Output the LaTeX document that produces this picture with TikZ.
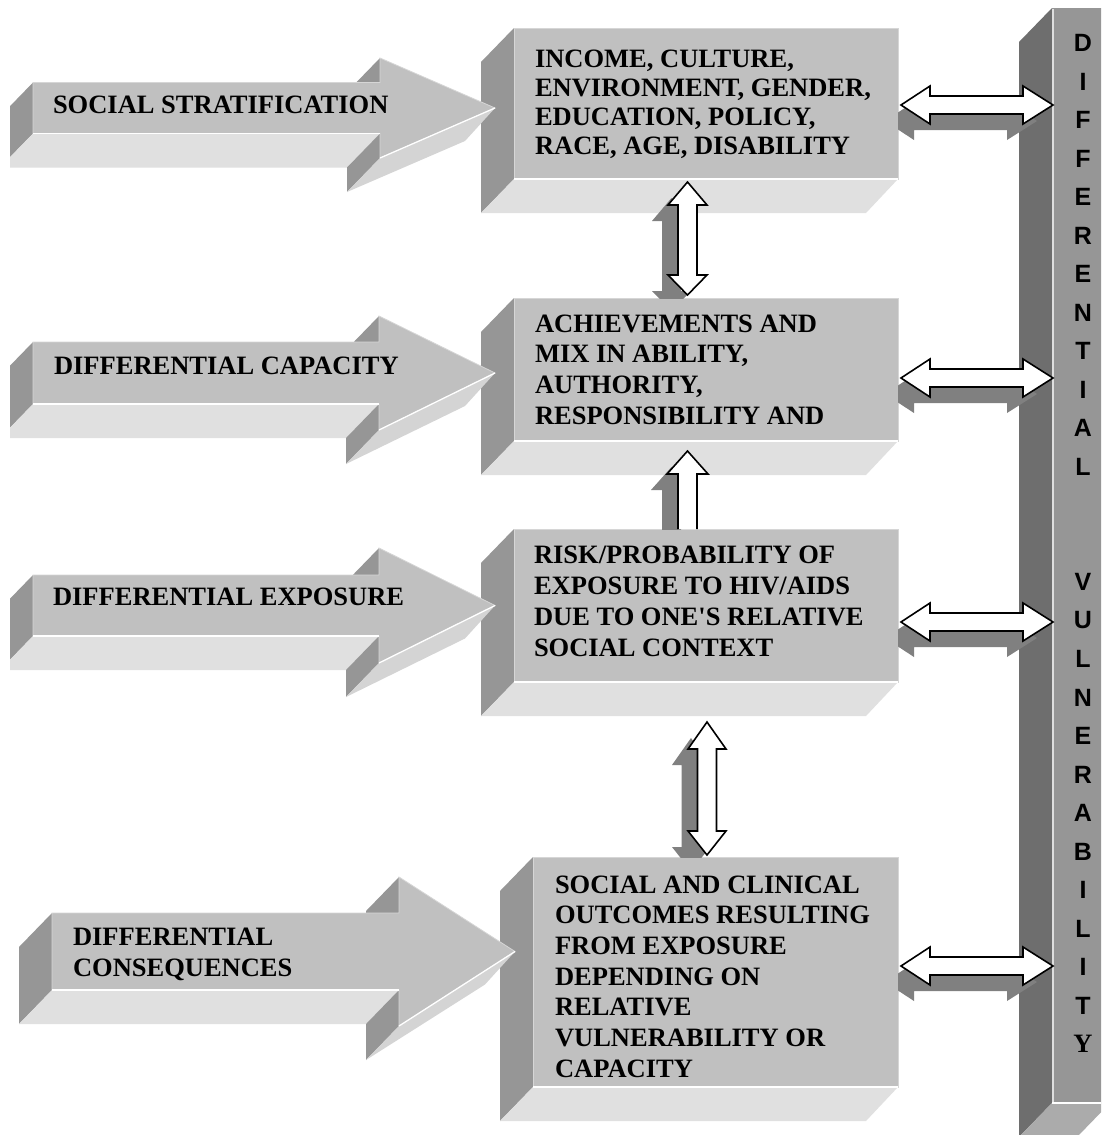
\documentclass[tikz,border=0pt]{standalone}
\usepackage{fontspec}
\setmainfont{Liberation Serif}
\newfontfamily\plainserif{Liberation Serif}
\newfontfamily\barfont{Liberation Sans}
\definecolor{frontgray}{HTML}{C0C0C0}
\definecolor{sidegray}{HTML}{969696}
\definecolor{botgray}{HTML}{E0E0E0}
\definecolor{slantgray}{HTML}{D4D4D4}
\definecolor{edgegray}{HTML}{D6D6D6}
\definecolor{barfront}{HTML}{969696}
\definecolor{barside}{HTML}{6E6E6E}
\definecolor{barbottom}{HTML}{ABABAB}
\definecolor{shadowgray}{HTML}{808080}
\tikzset{
  frontface/.style={fill=frontgray, draw=edgegray, line width=0.8pt},
  sideface/.style={fill=sidegray},
  bottomface/.style={fill=botgray},
  slantface/.style={fill=slantgray},
  hiline/.style={draw=white, line width=1.3pt},
  whitearrow/.style={fill=white, draw=black, line width=1.6pt, line join=miter},
  shadowarrow/.style={fill=shadowgray},
  lbl/.style={anchor=base west, inner sep=0pt, outer sep=0pt},
  barletter/.style={inner sep=0pt, font=\barfont\bfseries\fontsize{25}{25}\selectfont},
}
% 3D box: front face (#1,#2)-(#3,#4), depth toward lower left
\newcommand\ThreeDBox[4]{%
  \fill[sideface] (#1,#2) -- (#1,#4) -- ({#1-33},{#4+34}) -- ({#1-33},{#2+34}) -- cycle;
  \fill[bottomface] (#1,#4) -- (#3,#4) -- ({#3-32},{#4+34}) -- ({#1-33},{#4+34}) -- cycle;
  \path[frontface] (#1,#2) rectangle (#3,#4);
  \draw[hiline] (#1,#4) -- (#3,#4);
}
% 3D block arrow: #1 x0, #2 xh (head base), #3 xt (tip), #4 yc, #5 shaft half, #6 head half
\newcommand\BigArrow[6]{%
  \fill[sideface] (#1,{#4-#5}) -- (#1,{#4+#5}) -- ({#1-33},{#4+#5+34}) -- ({#1-33},{#4-#5+34}) -- cycle;
  \fill[bottomface] (#1,{#4+#5}) -- (#2,{#4+#5}) -- ({#2-33},{#4+#5+34}) -- ({#1-33},{#4+#5+34}) -- cycle;
  \fill[sideface] (#2,{#4-#6}) -- (#2,{#4-#5}) -- ({#2-33},{#4-#5+34}) -- ({#2-33},{#4-#6+34}) -- cycle;
  \fill[sideface] (#2,{#4+#5}) -- (#2,{#4+#6}) -- ({#2-33},{#4+#6+34}) -- ({#2-33},{#4+#5+34}) -- cycle;
  \fill[slantface] (#2,{#4+#6}) -- (#3,#4) -- ({#3-30},{#4+33}) -- ({#2-33},{#4+#6+34}) -- cycle;
  \path[frontface] (#1,{#4-#5}) -- (#2,{#4-#5}) -- (#2,{#4-#6}) -- (#3,#4) -- (#2,{#4+#6}) -- (#2,{#4+#5}) -- (#1,{#4+#5}) -- cycle;
  \draw[hiline] (#1,{#4+#5}) -- (#2,{#4+#5});
  \draw[hiline] (#2,{#4+#6}) -- (#3,#4);
}
% horizontal double arrow centred at y = #1
\newcommand\HDouble[2]{%
  \path[#2] (901,#1) -- (930,{#1-19}) -- (930,{#1-9}) -- (1023,{#1-9}) -- (1023,{#1-19}) -- (1053,#1)
    -- (1023,{#1+19}) -- (1023,{#1+9}) -- (930,{#1+9}) -- (930,{#1+19}) -- cycle;
}
\newcommand\VDoubleA[1]{%
  \path[#1] (687.5,182) -- (707,205) -- (697,205) -- (697,275) -- (707,275) -- (687.5,295)
    -- (668,275) -- (678,275) -- (678,205) -- (668,205) -- cycle;
}
\newcommand\VSingleB[1]{%
  \path[#1] (687.5,451) -- (708,474) -- (697,474) -- (697,529) -- (678,529) -- (678,474) -- (667,474) -- cycle;
}
\newcommand\VDoubleC[1]{%
  \path[#1] (707,722) -- (726,749) -- (716.5,749) -- (716.5,831) -- (726,831) -- (707,855)
    -- (688,831) -- (697.5,831) -- (697.5,749) -- (688,749) -- cycle;
}
\newcommand\BoxText[2]{{\fontsize{26.5}{#1}\selectfont\bfseries\begin{tabular}[t]{@{}l@{}}#2\end{tabular}}}
\newcommand\straightq{{\plainserif\bfseries '}}

\begin{document}
\begin{tikzpicture}[x=1pt,y=-1pt]
\useasboundingbox (0,0) rectangle (1101,1135);
\fill[white] (0,0) rectangle (1101,1135);

% vertical bar
\begin{scope}
\clip (0,0) rectangle (1101,1135);
\fill[barside] (1052,8) -- (1052,1103) -- (1019,1137) -- (1019,42) -- cycle;
\fill[barbottom] (1052,1103) -- (1110,1103) -- (1077,1137) -- (1019,1137) -- cycle;
\fill[barfront] (1052,8) rectangle (1105,1103);
\draw[draw=white!70!barfront, line width=2pt] (1053,9) -- (1053,1102);
\draw[hiline] (1052,1103) -- (1101,1103);
\end{scope}

% boxes
\ThreeDBox{514}{28}{898}{179}
\ThreeDBox{514}{298}{898}{441}
\ThreeDBox{514}{529}{898}{682}
\ThreeDBox{533}{857}{898}{1087}

% block arrows
\begin{scope}
\clip (10,0) rectangle (1101,1135);
\BigArrow{33}{380}{495}{108}{25.5}{50}
\BigArrow{33}{379}{495}{373}{31}{57}
\BigArrow{33}{379}{495}{605.5}{30.5}{57.5}
\BigArrow{52}{399}{515}{951.5}{38.5}{74.5}
\end{scope}

% shadows of the white arrows
\begin{scope}
\clip (898,0) rectangle (1101,1135);
\begin{scope}[shift={(-16,16)}]
\HDouble{105}{shadowarrow}
\HDouble{378}{shadowarrow}
\HDouble{622}{shadowarrow}
\HDouble{966}{shadowarrow}
\end{scope}
\end{scope}
\begin{scope}
\clip (0,0) rectangle (1101,298);
\begin{scope}[shift={(-16,16)}]\VDoubleA{shadowarrow}\end{scope}
\end{scope}
\begin{scope}
\clip (0,0) rectangle (1101,529);
\begin{scope}[shift={(-16,16)}]\VSingleB{shadowarrow}\end{scope}
\end{scope}
\begin{scope}
\clip (0,0) rectangle (1101,857);
\begin{scope}[shift={(-16,16)}]\VDoubleC{shadowarrow}\end{scope}
\end{scope}

% white connector arrows
\HDouble{105}{whitearrow}
\HDouble{378}{whitearrow}
\HDouble{622}{whitearrow}
\HDouble{966}{whitearrow}
\VDoubleA{whitearrow}
\VSingleB{fill=white}
\draw[black, line width=1.6pt, line join=miter] (697,529) -- (697,474) -- (708,474) -- (687.5,451) -- (667,474) -- (678,474) -- (678,529);
\VDoubleC{whitearrow}

% arrow labels
\node[lbl] (strat) at (53,113) {\BoxText{30}{SOCIAL STRATIFICATION}};
\node[lbl] (capac) at (54,374) {\BoxText{30}{DIFFERENTIAL CAPACITY}};
\node[lbl] (expos) at (53,605) {\BoxText{30}{DIFFERENTIAL EXPOSURE}};
\node[lbl] (conseq) at (73,945) {\BoxText{31}{DIFFERENTIAL\\CONSEQUENCES}};

% box texts
\node[lbl] (income) at (535,67) {\BoxText{29.3}{INCOME, CULTURE,\\ENVIRONMENT, GENDER,\\EDUCATION, POLICY,\\RACE, AGE, DISABILITY}};
\node[lbl] (achieve) at (535,332) {\BoxText{30.7}{ACHIEVEMENTS AND\\MIX IN ABILITY,\\AUTHORITY,\\RESPONSIBILITY AND}};
\node[lbl] (risk) at (534,563) {\BoxText{31}{RISK/PROBABILITY OF\\EXPOSURE TO HIV/AIDS\\DUE TO ONE\straightq S RELATIVE\\SOCIAL CONTEXT}};
\node[lbl] (outcome) at (555,893) {\BoxText{30.7}{SOCIAL AND CLINICAL\\OUTCOMES RESULTING\\FROM EXPOSURE\\DEPENDING ON\\RELATIVE\\VULNERABILITY OR\\CAPACITY}};

% bar letters
\foreach \ch [count=\i from 0] in {D,I,F,F,E,R,E,N,T,I,A,L}
  \node[barletter] (bara\i) at (1083,{43+38.5*\i}) {\ch};
\foreach \ch [count=\i from 14] in {V,U,L,N,E,R,A,B,I,L,I,T}
  \node[barletter] (barb\i) at (1083,{43+38.5*\i}) {\ch};
\node[inner sep=0pt, font=\bfseries\fontsize{26.5}{26.5}\selectfont] (barY) at (1083,1044) {Y};
\end{tikzpicture}
\end{document}
